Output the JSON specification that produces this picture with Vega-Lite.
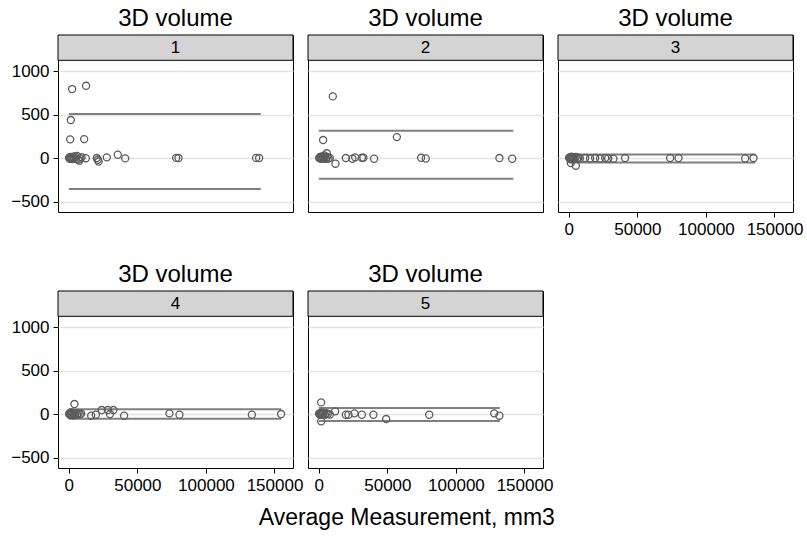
{
  "$schema": "https://vega.github.io/schema/vega-lite/v6.json",
  "background": "white",
  "padding": {"left": 10, "top": 6, "right": 2, "bottom": 5},
  "title": {"text": "Average Measurement, mm3", "orient": "bottom", "anchor": "middle", "fontSize": 23, "fontWeight": "normal", "offset": 13, "font": "Liberation Sans", "color": "#000000"},
  "config": {
    "view": {"stroke": "#000000", "strokeWidth": 1},
    "font": "Liberation Sans",
    "axis": {
      "domain": false, "tickColor": "#000000", "tickSize": 5, "labelFontSize": 17,
      "labelColor": "#000000", "labelFont": "Liberation Sans", "labelPadding": 4,
      "gridColor": "#e4e4e4", "gridWidth": 1.5, "labelOverlap": false, "labelFlush": false, "labelBound": false
    },
    "axisX": {"grid": false},
    "axisY": {"grid": true}
  },
  "data": {
    "values": [
      {"panel": 1, "kind": "hdr", "label": "1"},
      {"panel": 2, "kind": "hdr", "label": "2"},
      {"panel": 3, "kind": "hdr", "label": "3"},
      {"panel": 4, "kind": "hdr", "label": "4"},
      {"panel": 5, "kind": "hdr", "label": "5"},
      {"panel": 1, "kind": "loa", "avg": 0, "x2": 140000, "diff": 506},
      {"panel": 1, "kind": "loa", "avg": 0, "x2": 140000, "diff": -356},
      {"panel": 2, "kind": "loa", "avg": 0, "x2": 141900, "diff": 314},
      {"panel": 2, "kind": "loa", "avg": 0, "x2": 141900, "diff": -238},
      {"panel": 3, "kind": "loa", "avg": 0, "x2": 136000, "diff": 40},
      {"panel": 3, "kind": "loa", "avg": 0, "x2": 136000, "diff": -50},
      {"panel": 4, "kind": "loa", "avg": 0, "x2": 155000, "diff": 54},
      {"panel": 4, "kind": "loa", "avg": 0, "x2": 155000, "diff": -54},
      {"panel": 5, "kind": "loa", "avg": 0, "x2": 132000, "diff": 70},
      {"panel": 5, "kind": "loa", "avg": 0, "x2": 132000, "diff": -80},

      {"panel": 1, "kind": "pt", "avg": 2400, "diff": 793},
      {"panel": 1, "kind": "pt", "avg": 12600, "diff": 831},
      {"panel": 1, "kind": "pt", "avg": 1460, "diff": 437},
      {"panel": 1, "kind": "pt", "avg": 950, "diff": 215},
      {"panel": 1, "kind": "pt", "avg": 11160, "diff": 218},
      {"panel": 1, "kind": "pt", "avg": 200, "diff": 5},
      {"panel": 1, "kind": "pt", "avg": 600, "diff": -8},
      {"panel": 1, "kind": "pt", "avg": 1000, "diff": 12},
      {"panel": 1, "kind": "pt", "avg": 1500, "diff": -3},
      {"panel": 1, "kind": "pt", "avg": 2000, "diff": 8},
      {"panel": 1, "kind": "pt", "avg": 2600, "diff": -12},
      {"panel": 1, "kind": "pt", "avg": 3200, "diff": 15},
      {"panel": 1, "kind": "pt", "avg": 3800, "diff": -2},
      {"panel": 1, "kind": "pt", "avg": 4500, "diff": 20},
      {"panel": 1, "kind": "pt", "avg": 5200, "diff": -10},
      {"panel": 1, "kind": "pt", "avg": 6000, "diff": 25},
      {"panel": 1, "kind": "pt", "avg": 6800, "diff": -18},
      {"panel": 1, "kind": "pt", "avg": 7600, "diff": -30},
      {"panel": 1, "kind": "pt", "avg": 8500, "diff": -5},
      {"panel": 1, "kind": "pt", "avg": 9300, "diff": 10},
      {"panel": 1, "kind": "pt", "avg": 12400, "diff": -2},
      {"panel": 1, "kind": "pt", "avg": 20400, "diff": 0},
      {"panel": 1, "kind": "pt", "avg": 21100, "diff": -20},
      {"panel": 1, "kind": "pt", "avg": 21700, "diff": -40},
      {"panel": 1, "kind": "pt", "avg": 27700, "diff": 8},
      {"panel": 1, "kind": "pt", "avg": 35700, "diff": 38},
      {"panel": 1, "kind": "pt", "avg": 41100, "diff": -4},
      {"panel": 1, "kind": "pt", "avg": 78300, "diff": 2},
      {"panel": 1, "kind": "pt", "avg": 80000, "diff": 0},
      {"panel": 1, "kind": "pt", "avg": 136600, "diff": 2},
      {"panel": 1, "kind": "pt", "avg": 138800, "diff": 0},

      {"panel": 2, "kind": "pt", "avg": 10200, "diff": 709},
      {"panel": 2, "kind": "pt", "avg": 3100, "diff": 207},
      {"panel": 2, "kind": "pt", "avg": 56900, "diff": 241},
      {"panel": 2, "kind": "pt", "avg": 12100, "diff": -65},
      {"panel": 2, "kind": "pt", "avg": 5800, "diff": 55},
      {"panel": 2, "kind": "pt", "avg": 300, "diff": 0},
      {"panel": 2, "kind": "pt", "avg": 700, "diff": 10},
      {"panel": 2, "kind": "pt", "avg": 1100, "diff": -5},
      {"panel": 2, "kind": "pt", "avg": 1500, "diff": 15},
      {"panel": 2, "kind": "pt", "avg": 2000, "diff": -8},
      {"panel": 2, "kind": "pt", "avg": 2500, "diff": 5},
      {"panel": 2, "kind": "pt", "avg": 3000, "diff": 20},
      {"panel": 2, "kind": "pt", "avg": 3500, "diff": -3},
      {"panel": 2, "kind": "pt", "avg": 4000, "diff": 30},
      {"panel": 2, "kind": "pt", "avg": 4500, "diff": 8},
      {"panel": 2, "kind": "pt", "avg": 5200, "diff": -10},
      {"panel": 2, "kind": "pt", "avg": 6000, "diff": 12},
      {"panel": 2, "kind": "pt", "avg": 7000, "diff": -5},
      {"panel": 2, "kind": "pt", "avg": 8000, "diff": 2},
      {"panel": 2, "kind": "pt", "avg": 19700, "diff": 0},
      {"panel": 2, "kind": "pt", "avg": 24500, "diff": -8},
      {"panel": 2, "kind": "pt", "avg": 26500, "diff": 8},
      {"panel": 2, "kind": "pt", "avg": 31400, "diff": 3},
      {"panel": 2, "kind": "pt", "avg": 32500, "diff": 3},
      {"panel": 2, "kind": "pt", "avg": 40300, "diff": -8},
      {"panel": 2, "kind": "pt", "avg": 74600, "diff": 3},
      {"panel": 2, "kind": "pt", "avg": 78000, "diff": -5},
      {"panel": 2, "kind": "pt", "avg": 131700, "diff": 0},
      {"panel": 2, "kind": "pt", "avg": 141000, "diff": -8},

      {"panel": 3, "kind": "pt", "avg": 200, "diff": 5},
      {"panel": 3, "kind": "pt", "avg": 600, "diff": -5},
      {"panel": 3, "kind": "pt", "avg": 1000, "diff": 10},
      {"panel": 3, "kind": "pt", "avg": 1500, "diff": -10},
      {"panel": 3, "kind": "pt", "avg": 2000, "diff": 15},
      {"panel": 3, "kind": "pt", "avg": 2500, "diff": 0},
      {"panel": 3, "kind": "pt", "avg": 3000, "diff": -15},
      {"panel": 3, "kind": "pt", "avg": 3500, "diff": 8},
      {"panel": 3, "kind": "pt", "avg": 4200, "diff": -5},
      {"panel": 3, "kind": "pt", "avg": 5000, "diff": 12},
      {"panel": 3, "kind": "pt", "avg": 6000, "diff": -8},
      {"panel": 3, "kind": "pt", "avg": 7000, "diff": 5},
      {"panel": 3, "kind": "pt", "avg": 8000, "diff": -3},
      {"panel": 3, "kind": "pt", "avg": 1460, "diff": -57},
      {"panel": 3, "kind": "pt", "avg": 5100, "diff": -88},
      {"panel": 3, "kind": "pt", "avg": 11900, "diff": 0},
      {"panel": 3, "kind": "pt", "avg": 15500, "diff": -5},
      {"panel": 3, "kind": "pt", "avg": 19200, "diff": 0},
      {"panel": 3, "kind": "pt", "avg": 22800, "diff": -5},
      {"panel": 3, "kind": "pt", "avg": 26500, "diff": 0},
      {"panel": 3, "kind": "pt", "avg": 28700, "diff": -5},
      {"panel": 3, "kind": "pt", "avg": 32500, "diff": -8},
      {"panel": 3, "kind": "pt", "avg": 41000, "diff": 0},
      {"panel": 3, "kind": "pt", "avg": 73900, "diff": 0},
      {"panel": 3, "kind": "pt", "avg": 80000, "diff": 0},
      {"panel": 3, "kind": "pt", "avg": 128600, "diff": -5},
      {"panel": 3, "kind": "pt", "avg": 134700, "diff": 0},

      {"panel": 4, "kind": "pt", "avg": 4100, "diff": 115},
      {"panel": 4, "kind": "pt", "avg": 200, "diff": 0},
      {"panel": 4, "kind": "pt", "avg": 600, "diff": 10},
      {"panel": 4, "kind": "pt", "avg": 1000, "diff": -10},
      {"panel": 4, "kind": "pt", "avg": 1500, "diff": 20},
      {"panel": 4, "kind": "pt", "avg": 2000, "diff": -5},
      {"panel": 4, "kind": "pt", "avg": 2500, "diff": 15},
      {"panel": 4, "kind": "pt", "avg": 3000, "diff": -15},
      {"panel": 4, "kind": "pt", "avg": 3500, "diff": 5},
      {"panel": 4, "kind": "pt", "avg": 4500, "diff": -8},
      {"panel": 4, "kind": "pt", "avg": 5000, "diff": 10},
      {"panel": 4, "kind": "pt", "avg": 6000, "diff": -5},
      {"panel": 4, "kind": "pt", "avg": 7000, "diff": 8},
      {"panel": 4, "kind": "pt", "avg": 8000, "diff": -3},
      {"panel": 4, "kind": "pt", "avg": 9000, "diff": 5},
      {"panel": 4, "kind": "pt", "avg": 16300, "diff": -19},
      {"panel": 4, "kind": "pt", "avg": 19700, "diff": -8},
      {"panel": 4, "kind": "pt", "avg": 24000, "diff": 46},
      {"panel": 4, "kind": "pt", "avg": 28400, "diff": 46},
      {"panel": 4, "kind": "pt", "avg": 32500, "diff": 46},
      {"panel": 4, "kind": "pt", "avg": 30000, "diff": 0},
      {"panel": 4, "kind": "pt", "avg": 40300, "diff": -19},
      {"panel": 4, "kind": "pt", "avg": 73400, "diff": 8},
      {"panel": 4, "kind": "pt", "avg": 80700, "diff": -8},
      {"panel": 4, "kind": "pt", "avg": 133500, "diff": -8},
      {"panel": 4, "kind": "pt", "avg": 154800, "diff": 0},

      {"panel": 5, "kind": "pt", "avg": 1700, "diff": 134},
      {"panel": 5, "kind": "pt", "avg": 1700, "diff": -84},
      {"panel": 5, "kind": "pt", "avg": 200, "diff": 5},
      {"panel": 5, "kind": "pt", "avg": 600, "diff": -5},
      {"panel": 5, "kind": "pt", "avg": 1000, "diff": 10},
      {"panel": 5, "kind": "pt", "avg": 1500, "diff": 0},
      {"panel": 5, "kind": "pt", "avg": 2000, "diff": -10},
      {"panel": 5, "kind": "pt", "avg": 2500, "diff": 15},
      {"panel": 5, "kind": "pt", "avg": 3000, "diff": -5},
      {"panel": 5, "kind": "pt", "avg": 3500, "diff": 5},
      {"panel": 5, "kind": "pt", "avg": 4500, "diff": -8},
      {"panel": 5, "kind": "pt", "avg": 5500, "diff": 10},
      {"panel": 5, "kind": "pt", "avg": 6500, "diff": 0},
      {"panel": 5, "kind": "pt", "avg": 8000, "diff": -5},
      {"panel": 5, "kind": "pt", "avg": 11900, "diff": 31},
      {"panel": 5, "kind": "pt", "avg": 19700, "diff": -8},
      {"panel": 5, "kind": "pt", "avg": 21600, "diff": -8},
      {"panel": 5, "kind": "pt", "avg": 26000, "diff": 8},
      {"panel": 5, "kind": "pt", "avg": 31400, "diff": -8},
      {"panel": 5, "kind": "pt", "avg": 39800, "diff": -8},
      {"panel": 5, "kind": "pt", "avg": 49100, "diff": -57},
      {"panel": 5, "kind": "pt", "avg": 80500, "diff": -8},
      {"panel": 5, "kind": "pt", "avg": 127900, "diff": 8},
      {"panel": 5, "kind": "pt", "avg": 131700, "diff": -19}
    ]
  },
  "spacing": 24,
  "vconcat": [
    {
      "bounds": "flush",
      "spacing": 15,
      "hconcat": [
        {
          "title": {"text": "3D volume", "fontSize": 24, "fontWeight": "normal", "offset": 4, "color": "#000000", "font": "Liberation Sans"},
          "width": 235, "height": 177,
          "transform": [{"filter": "datum.panel === 1"}],
          "layer": [
            {"transform": [{"filter": "datum.kind === 'hdr'"}], "mark": {"type": "rect", "fill": "#d4d4d4", "stroke": "#000000", "strokeWidth": 1},
             "encoding": {"x": {"datum": -7900, "type": "quantitative"}, "x2": {"datum": 163500}, "y": {"datum": 1123.7, "type": "quantitative"}, "y2": {"datum": 1414.5}}},
            {"transform": [{"filter": "datum.kind === 'hdr'"}], "mark": {"type": "text", "fontSize": 17, "color": "#000000", "baseline": "middle", "align": "center"},
             "encoding": {"x": {"datum": 77800, "type": "quantitative"}, "y": {"datum": 1269, "type": "quantitative"}, "text": {"field": "label"}}},
            {"transform": [{"filter": "datum.kind === 'loa'"}], "mark": {"type": "rule", "color": "#808080", "strokeWidth": 2},
             "encoding": {"x": {"field": "avg", "type": "quantitative"}, "x2": {"field": "x2"}, "y": {"field": "diff", "type": "quantitative"}}},
            {"transform": [{"filter": "datum.kind === 'pt'"}], "mark": {"type": "point", "shape": "circle", "filled": false, "color": "#5c5c5c", "strokeWidth": 1.3, "size": 50, "opacity": 1},
             "encoding": {
               "x": {"field": "avg", "type": "quantitative", "scale": {"domain": [-7900, 163500], "nice": false, "zero": false}, "axis": {"title": null, "values": [0, 50000, 100000, 150000], "labels": false, "ticks": false}},
               "y": {"field": "diff", "type": "quantitative", "scale": {"domain": [-620, 1414.5], "nice": false, "zero": false}, "axis": {"title": null, "values": [-500, 0, 500, 1000], "format": "d"}}}}
          ]
        },
        {
          "title": {"text": "3D volume", "fontSize": 24, "fontWeight": "normal", "offset": 4, "color": "#000000", "font": "Liberation Sans"},
          "width": 235, "height": 177,
          "transform": [{"filter": "datum.panel === 2"}],
          "layer": [
            {"transform": [{"filter": "datum.kind === 'hdr'"}], "mark": {"type": "rect", "fill": "#d4d4d4", "stroke": "#000000", "strokeWidth": 1},
             "encoding": {"x": {"datum": -7900, "type": "quantitative"}, "x2": {"datum": 163500}, "y": {"datum": 1123.7, "type": "quantitative"}, "y2": {"datum": 1414.5}}},
            {"transform": [{"filter": "datum.kind === 'hdr'"}], "mark": {"type": "text", "fontSize": 17, "color": "#000000", "baseline": "middle", "align": "center"},
             "encoding": {"x": {"datum": 77800, "type": "quantitative"}, "y": {"datum": 1269, "type": "quantitative"}, "text": {"field": "label"}}},
            {"transform": [{"filter": "datum.kind === 'loa'"}], "mark": {"type": "rule", "color": "#808080", "strokeWidth": 2},
             "encoding": {"x": {"field": "avg", "type": "quantitative"}, "x2": {"field": "x2"}, "y": {"field": "diff", "type": "quantitative"}}},
            {"transform": [{"filter": "datum.kind === 'pt'"}], "mark": {"type": "point", "shape": "circle", "filled": false, "color": "#5c5c5c", "strokeWidth": 1.3, "size": 50, "opacity": 1},
             "encoding": {
               "x": {"field": "avg", "type": "quantitative", "scale": {"domain": [-7900, 163500], "nice": false, "zero": false}, "axis": {"title": null, "values": [0, 50000, 100000, 150000], "labels": false, "ticks": false}},
               "y": {"field": "diff", "type": "quantitative", "scale": {"domain": [-620, 1414.5], "nice": false, "zero": false}, "axis": {"title": null, "values": [-500, 0, 500, 1000], "labels": false, "ticks": false}}}}
          ]
        },
        {
          "title": {"text": "3D volume", "fontSize": 24, "fontWeight": "normal", "offset": 4, "color": "#000000", "font": "Liberation Sans"},
          "width": 235, "height": 177,
          "transform": [{"filter": "datum.panel === 3"}],
          "layer": [
            {"transform": [{"filter": "datum.kind === 'hdr'"}], "mark": {"type": "rect", "fill": "#d4d4d4", "stroke": "#000000", "strokeWidth": 1},
             "encoding": {"x": {"datum": -7900, "type": "quantitative"}, "x2": {"datum": 163500}, "y": {"datum": 1123.7, "type": "quantitative"}, "y2": {"datum": 1414.5}}},
            {"transform": [{"filter": "datum.kind === 'hdr'"}], "mark": {"type": "text", "fontSize": 17, "color": "#000000", "baseline": "middle", "align": "center"},
             "encoding": {"x": {"datum": 77800, "type": "quantitative"}, "y": {"datum": 1269, "type": "quantitative"}, "text": {"field": "label"}}},
            {"transform": [{"filter": "datum.kind === 'loa'"}], "mark": {"type": "rule", "color": "#808080", "strokeWidth": 2},
             "encoding": {"x": {"field": "avg", "type": "quantitative"}, "x2": {"field": "x2"}, "y": {"field": "diff", "type": "quantitative"}}},
            {"transform": [{"filter": "datum.kind === 'pt'"}], "mark": {"type": "point", "shape": "circle", "filled": false, "color": "#5c5c5c", "strokeWidth": 1.3, "size": 50, "opacity": 1},
             "encoding": {
               "x": {"field": "avg", "type": "quantitative", "scale": {"domain": [-7900, 163500], "nice": false, "zero": false}, "axis": {"title": null, "values": [0, 50000, 100000, 150000], "format": "d"}},
               "y": {"field": "diff", "type": "quantitative", "scale": {"domain": [-620, 1414.5], "nice": false, "zero": false}, "axis": {"title": null, "values": [-500, 0, 500, 1000], "labels": false, "ticks": false}}}}
          ]
        }
      ]
    },
    {
      "bounds": "flush",
      "spacing": 15,
      "hconcat": [
        {
          "title": {"text": "3D volume", "fontSize": 24, "fontWeight": "normal", "offset": 4, "color": "#000000", "font": "Liberation Sans"},
          "width": 235, "height": 177,
          "transform": [{"filter": "datum.panel === 4"}],
          "layer": [
            {"transform": [{"filter": "datum.kind === 'hdr'"}], "mark": {"type": "rect", "fill": "#d4d4d4", "stroke": "#000000", "strokeWidth": 1},
             "encoding": {"x": {"datum": -7900, "type": "quantitative"}, "x2": {"datum": 163500}, "y": {"datum": 1123.7, "type": "quantitative"}, "y2": {"datum": 1414.5}}},
            {"transform": [{"filter": "datum.kind === 'hdr'"}], "mark": {"type": "text", "fontSize": 17, "color": "#000000", "baseline": "middle", "align": "center"},
             "encoding": {"x": {"datum": 77800, "type": "quantitative"}, "y": {"datum": 1269, "type": "quantitative"}, "text": {"field": "label"}}},
            {"transform": [{"filter": "datum.kind === 'loa'"}], "mark": {"type": "rule", "color": "#808080", "strokeWidth": 2},
             "encoding": {"x": {"field": "avg", "type": "quantitative"}, "x2": {"field": "x2"}, "y": {"field": "diff", "type": "quantitative"}}},
            {"transform": [{"filter": "datum.kind === 'pt'"}], "mark": {"type": "point", "shape": "circle", "filled": false, "color": "#5c5c5c", "strokeWidth": 1.3, "size": 50, "opacity": 1},
             "encoding": {
               "x": {"field": "avg", "type": "quantitative", "scale": {"domain": [-7900, 163500], "nice": false, "zero": false}, "axis": {"title": null, "values": [0, 50000, 100000, 150000], "format": "d"}},
               "y": {"field": "diff", "type": "quantitative", "scale": {"domain": [-620, 1414.5], "nice": false, "zero": false}, "axis": {"title": null, "values": [-500, 0, 500, 1000], "format": "d"}}}}
          ]
        },
        {
          "title": {"text": "3D volume", "fontSize": 24, "fontWeight": "normal", "offset": 4, "color": "#000000", "font": "Liberation Sans"},
          "width": 235, "height": 177,
          "transform": [{"filter": "datum.panel === 5"}],
          "layer": [
            {"transform": [{"filter": "datum.kind === 'hdr'"}], "mark": {"type": "rect", "fill": "#d4d4d4", "stroke": "#000000", "strokeWidth": 1},
             "encoding": {"x": {"datum": -7900, "type": "quantitative"}, "x2": {"datum": 163500}, "y": {"datum": 1123.7, "type": "quantitative"}, "y2": {"datum": 1414.5}}},
            {"transform": [{"filter": "datum.kind === 'hdr'"}], "mark": {"type": "text", "fontSize": 17, "color": "#000000", "baseline": "middle", "align": "center"},
             "encoding": {"x": {"datum": 77800, "type": "quantitative"}, "y": {"datum": 1269, "type": "quantitative"}, "text": {"field": "label"}}},
            {"transform": [{"filter": "datum.kind === 'loa'"}], "mark": {"type": "rule", "color": "#808080", "strokeWidth": 2},
             "encoding": {"x": {"field": "avg", "type": "quantitative"}, "x2": {"field": "x2"}, "y": {"field": "diff", "type": "quantitative"}}},
            {"transform": [{"filter": "datum.kind === 'pt'"}], "mark": {"type": "point", "shape": "circle", "filled": false, "color": "#5c5c5c", "strokeWidth": 1.3, "size": 50, "opacity": 1},
             "encoding": {
               "x": {"field": "avg", "type": "quantitative", "scale": {"domain": [-7900, 163500], "nice": false, "zero": false}, "axis": {"title": null, "values": [0, 50000, 100000, 150000], "format": "d"}},
               "y": {"field": "diff", "type": "quantitative", "scale": {"domain": [-620, 1414.5], "nice": false, "zero": false}, "axis": {"title": null, "values": [-500, 0, 500, 1000], "labels": false, "ticks": false}}}}
          ]
        }
      ]
    }
  ]
}
